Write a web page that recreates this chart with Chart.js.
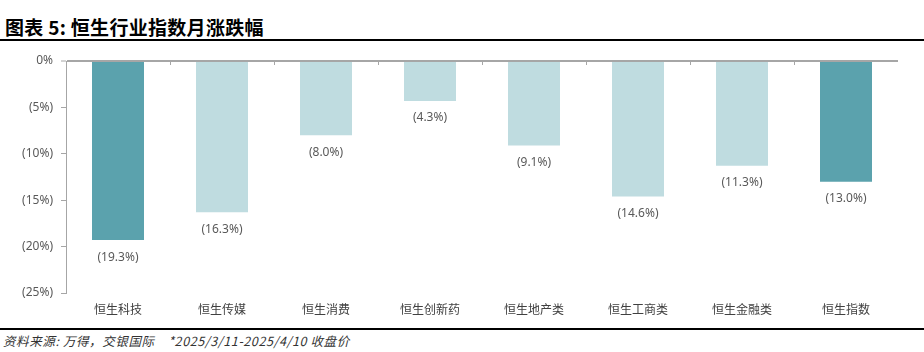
<!DOCTYPE html>
<html>
<head>
<meta charset="utf-8">
<script src="https://cdn.jsdelivr.net/npm/chart.js@4/dist/chart.umd.min.js"></script>
<style>
  body { margin: 0; width: 924px; height: 352px; background: #fff; position: relative; overflow: hidden; }
  #title { position: absolute; left: 5px; top: 13px; font: bold 19px "Noto Sans CJK SC", sans-serif; color: #000; letter-spacing: 0.3px; }
  .rule { position: absolute; left: 0; width: 924px; height: 2px; background: #000; }
  #source { position: absolute; left: 3px; top: 331px; font: italic 12.5px "Noto Sans CJK SC", sans-serif; color: #333; white-space: pre; letter-spacing: 0.6px; }
  #wrap { position: absolute; left: 0; top: 44px; width: 924px; height: 278px; }
</style>
</head>
<body>
<div id="title">图表 5: 恒生行业指数月涨跌幅</div>
<div class="rule" style="top:39px"></div>
<div id="wrap"><canvas id="myChart"></canvas></div>
<div class="rule" style="top:328px"></div>
<div id="source">资料来源: 万得，交银国际    *2025/3/11-2025/4/10 收盘价</div>
<script>
var categories = ['恒生科技', '恒生传媒', '恒生消费', '恒生创新药', '恒生地产类', '恒生工商类', '恒生金融类', '恒生指数'];
var changes = [-19.3, -16.3, -8.0, -4.3, -9.1, -14.6, -11.3, -13.0];
var highlighted = ['恒生科技', '恒生指数'];
var yTicks = [0, -5, -10, -15, -20, -25];

function pct(v) {
    if (v === 0) return '0%';
    return v < 0 ? '(' + Math.abs(v) + '%)' : v + '%';
}

// value labels under each bar + small ticks on the zero line
var barLabels = {
    id: 'barLabels',
    afterDatasetsDraw: function (chart) {
        var ctx = chart.ctx;
        var x = chart.scales.x, y = chart.scales.y;
        var zero = y.getPixelForValue(0);
        ctx.save();
        ctx.strokeStyle = '#a6a6a6';
        ctx.lineWidth = 1;
        for (var i = 1; i < categories.length; i++) {
            var bx = Math.round((x.getPixelForValue(i - 1) + x.getPixelForValue(i)) / 2) + 0.5;
            ctx.beginPath();
            ctx.moveTo(bx, zero);
            ctx.lineTo(bx, zero + 4);
            ctx.stroke();
        }
        ctx.fillStyle = '#595959';
        ctx.font = '12px "Noto Sans", sans-serif';
        ctx.textAlign = 'center';
        ctx.textBaseline = 'middle';
        chart.getDatasetMeta(0).data.forEach(function (bar, i) {
            var v = changes[i];
            ctx.fillText('(' + Math.abs(v).toFixed(1) + '%)', bar.x, bar.y + 17);
        });
        ctx.restore();
    }
};

var ctx = document.getElementById('myChart').getContext('2d');
var chart = new Chart(ctx, {
    type: 'bar',
    data: {
        labels: categories,
        datasets: [{
            data: changes,
            backgroundColor: categories.map(function (c) {
                return highlighted.indexOf(c) >= 0 ? '#5BA2AD' : '#BFDCE0';
            }),
            barPercentage: 0.5,
            categoryPercentage: 1
        }]
    },
    options: {
        responsive: true,
        maintainAspectRatio: false,
        animation: false,
        layout: { padding: { top: 17, right: 26, left: 0, bottom: 0 } },
        plugins: {
            legend: { display: false },
            tooltip: { enabled: false }
        },
        scales: {
            x: {
                grid: { display: false, drawTicks: false },
                border: { display: false },
                ticks: {
                    padding: 9,
                    color: '#404040',
                    font: { family: '"Noto Sans CJK SC", sans-serif', size: 12 }
                },
                afterFit: function (s) { s.height = 29; }
            },
            y: {
                min: -25,
                max: 0,
                afterBuildTicks: function (s) {
                    s.ticks = yTicks.map(function (v) { return { value: v }; });
                },
                grid: {
                    color: function (c) { return c.tick && c.tick.value === 0 ? '#a6a6a6' : 'rgba(0,0,0,0)'; },
                    lineWidth: function (c) { return c.tick && c.tick.value === 0 ? 2 : 1; },
                    tickColor: '#a6a6a6',
                    tickWidth: 1,
                    tickLength: 5
                },
                border: { display: true, color: '#a6a6a6', width: 1 },
                ticks: {
                    padding: 8,
                    color: '#595959',
                    font: { family: '"Noto Sans", sans-serif', size: 12 },
                    callback: function (v) { return pct(v); }
                },
                afterFit: function (s) { s.width = 66; }
            }
        }
    },
    plugins: [barLabels]
});
</script>
</body>
</html>
